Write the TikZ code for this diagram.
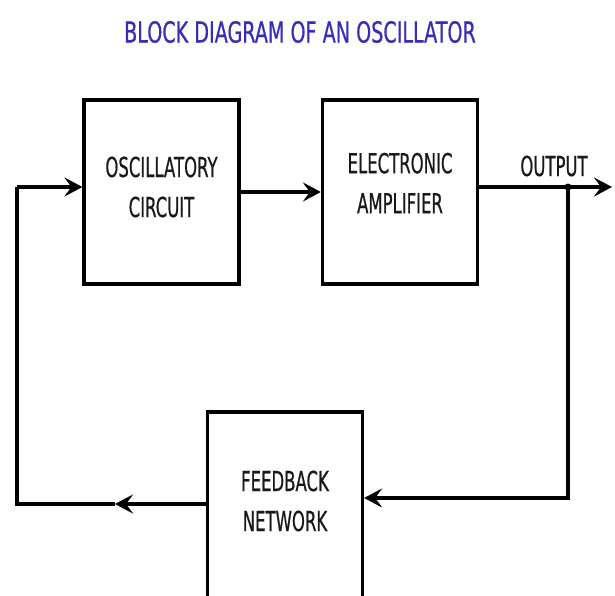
\documentclass[tikz,border=0pt]{standalone}
\usepackage{fontspec}
\usepackage{xcolor}
\usepackage{tikz}
\usetikzlibrary{arrows.meta,positioning}

\newfontfamily\blkfont[FakeStretch=0.6,FakeBold=0.6]{DejaVu Sans}
\newfontfamily\ttlfont[FakeStretch=0.66,FakeBold=0.6]{DejaVu Sans}
\definecolor{titleblue}{RGB}{55,45,185}

\begin{document}
\begin{tikzpicture}[
  x=1pt, y=-1pt,
  blk/.style={draw=black, line width=3.2pt, minimum width=155pt,
              minimum height=184pt, inner sep=0pt},
  lbl/.style={align=center, text=black!90,
              font=\blkfont\fontsize{27.5}{40}\selectfont},
  wire/.style={draw=black, line width=3.2pt},
  tip/.style={-{Stealth[length=18pt,width=19pt,inset=7pt]}},
]
  \useasboundingbox (0,0) rectangle (615,595);
  \clip (0,0) rectangle (615,595);

  % Titulo
  \node[lbl, text=titleblue, font=\ttlfont\fontsize{29}{30}\selectfont]
    (title) at (300,32) {BLOCK DIAGRAM OF AN OSCILLATOR};

  % Bloques
  \node[blk, label={[lbl, yshift=5pt]center:OSCILLATORY\\CIRCUIT}]
    (osc) at (161.5,192) {};
  \node[blk, label={[lbl, yshift=9pt]center:ELECTRONIC\\AMPLIFIER}]
    (amp) at (400,192) {};
  \node[blk, minimum height=200pt, label={[lbl, yshift=11pt]center:FEEDBACK\\NETWORK}]
    (fb) at (285,512) {};

  % Puntos de paso
  \coordinate (ltop) at (17,187);
  \coordinate (lbot) at (17,504);
  \coordinate (larr) at (115,504);
  \coordinate (tap)  at (568,187);
  \coordinate (rbot) at (568,498);
  \coordinate (outend) at (612,187);

  \node[lbl, anchor=base] (outlbl) at (554,176) {OUTPUT};

  % Camino directo
  \draw[wire, tip] (osc.east) -- (amp.west);
  \draw[wire, tip] (tap -| amp.east) -- (outend);
  \fill (tap) circle (3.5);

  % Lazo de realimentacion
  \draw[wire, tip] (tap) -- (rbot) -- (rbot -| fb.east);
  \draw[wire, tip] (lbot -| fb.west) -- (larr);
  \draw[wire] (larr) -- (lbot) -- (ltop);
  \draw[wire, tip] (ltop) -- (ltop -| osc.west);
\end{tikzpicture}
\end{document}
